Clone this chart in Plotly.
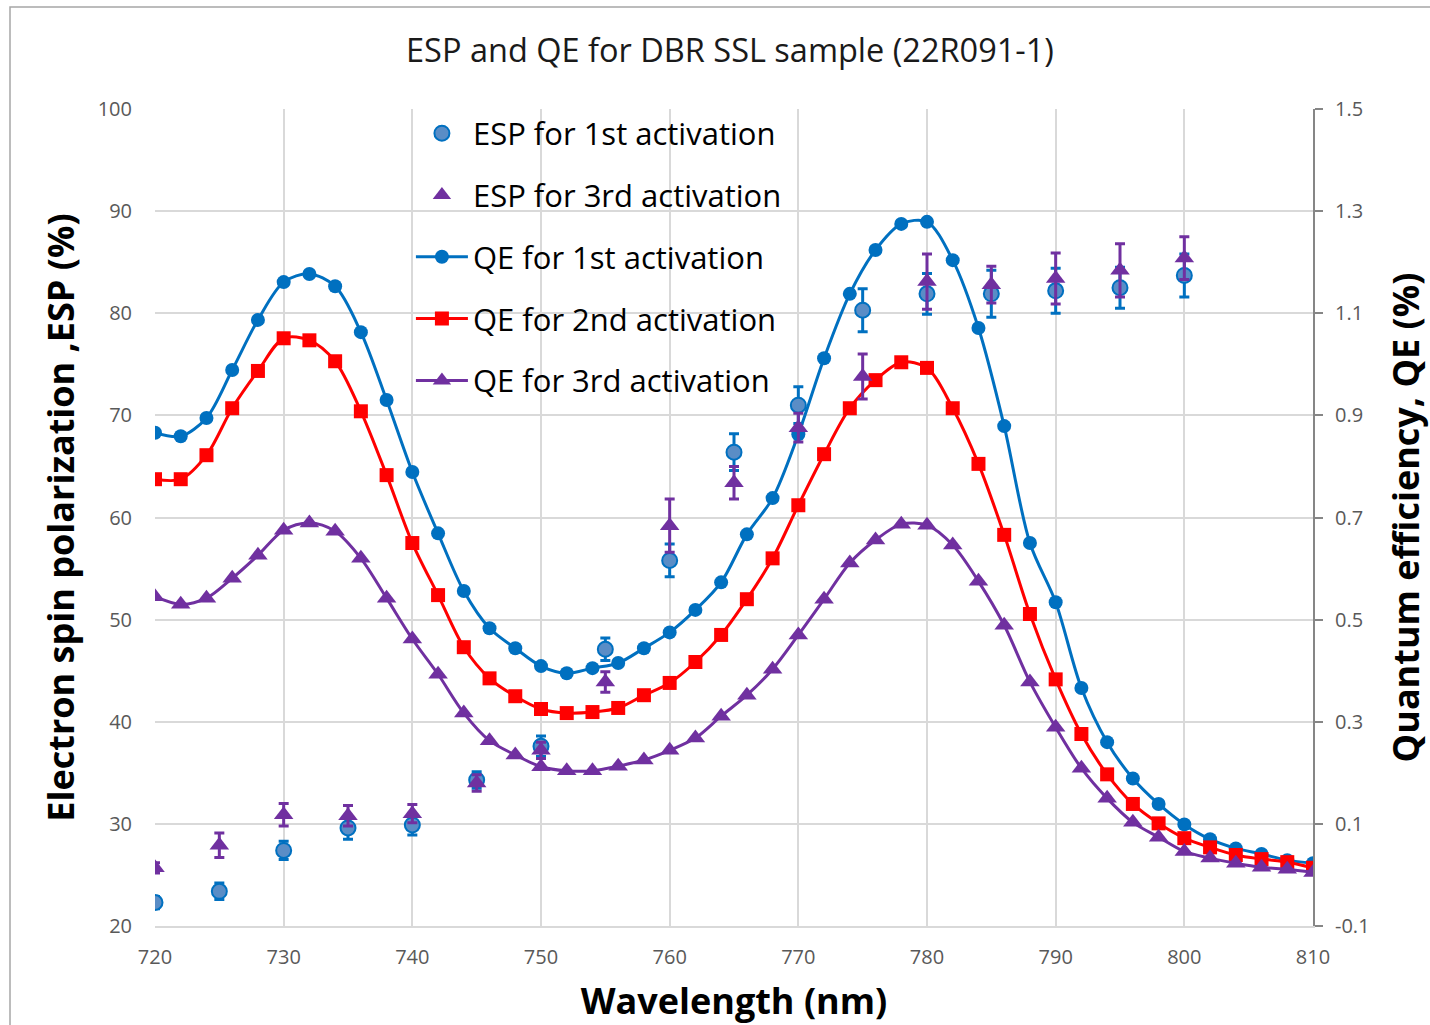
import plotly.graph_objects as go

# ---------------- data ----------------
wl_qe = [720, 722, 724, 726, 728, 730, 732, 734, 736, 738, 740, 742, 744, 746, 748,
         750, 752, 754, 756, 758, 760, 762, 764, 766, 768, 770, 772, 774, 776, 778,
         780, 782, 784, 786, 788, 790, 792, 794, 796, 798, 800, 802, 804, 806, 808, 810]

qe_1st = [0.866, 0.859, 0.895, 0.989, 1.087, 1.161, 1.177, 1.153, 1.063, 0.930, 0.789, 0.669, 0.556, 0.483, 0.444,
          0.409, 0.395, 0.405, 0.415, 0.444, 0.475, 0.519, 0.573, 0.667, 0.738, 0.863,
          1.012, 1.138, 1.224, 1.275, 1.279, 1.204, 1.071, 0.879,
          0.650, 0.534, 0.366, 0.260, 0.189, 0.139, 0.099, 0.070, 0.052, 0.041, 0.029, 0.023]

qe_2nd = [0.775, 0.775, 0.822, 0.914, 0.987, 1.051, 1.047, 1.006, 0.908, 0.783, 0.650, 0.548, 0.446, 0.385, 0.350,
          0.325, 0.317, 0.319, 0.327, 0.352, 0.376, 0.417, 0.470, 0.540, 0.620, 0.724, 0.824,
          0.914, 0.969, 1.004, 0.993, 0.914, 0.805,
          0.666, 0.511, 0.383, 0.276, 0.197, 0.139, 0.101, 0.072, 0.054, 0.039, 0.031, 0.025, 0.014]

qe_3rd = [0.545, 0.530, 0.542, 0.581, 0.626, 0.675, 0.689, 0.673, 0.620, 0.542, 0.462, 0.393, 0.317,
          0.263, 0.235, 0.212, 0.204, 0.204, 0.213, 0.225, 0.244, 0.268,
          0.311, 0.352, 0.403, 0.470, 0.540, 0.611, 0.656, 0.687,
          0.685, 0.646, 0.575, 0.489, 0.378, 0.289, 0.209, 0.150, 0.103, 0.074, 0.046, 0.033, 0.023, 0.015, 0.011, 0.005]

wl_esp = [720, 725, 730, 735, 740, 745, 750, 755, 760, 765, 770, 775, 780, 785, 790, 795, 800]
esp_1st = [22.3, 23.4, 27.4, 29.6, 29.9, 34.3, 37.6, 47.1, 55.8, 66.4, 71.0, 80.3, 81.9, 81.9, 82.2, 82.5, 83.7]
esp_1st_err = [0.6, 0.8, 0.9, 1.1, 1.0, 0.8, 1.0, 1.1, 1.6, 1.8, 1.8, 2.1, 2.0, 2.3, 2.2, 2.0, 2.1]
esp_3rd = [25.7, 27.9, 30.9, 30.8, 31.0, 34.0, 37.2, 43.9, 59.2, 63.4, 68.8, 73.8, 83.1, 82.8, 83.4, 84.2, 85.4]
esp_3rd_err = [0.5, 1.2, 1.1, 1.0, 0.9, 0.8, 0.8, 1.0, 2.6, 1.6, 1.4, 2.2, 2.7, 1.8, 2.5, 2.6, 2.1]

x_ticks = [720, 730, 740, 750, 760, 770, 780, 790, 800, 810]
qe_ticks = [-0.1, 0.1, 0.3, 0.5, 0.7, 0.9, 1.1, 1.3, 1.5]
qe_tick_labels = ["-0.1", "0.1", "0.3", "0.5", "0.7", "0.9", "1.1", "1.3", "1.5"]

# ---------------- styles ----------------
BLUE = "#0070C0"
RED = "#FF0000"
PURPLE = "#7030A0"
FONT = "Open Sans"

fig = go.Figure()

# QE curves (primary y axis, drawn on the right side)
fig.add_trace(go.Scatter(
    x=wl_qe, y=qe_1st, name="QE for 1st activation", mode="lines+markers",
    line=dict(color=BLUE, width=3, shape="spline", smoothing=0.9),
    marker=dict(symbol="circle", size=14, color=BLUE),
    yaxis="y", legendgroup="g3", legendrank=3))
fig.add_trace(go.Scatter(
    x=wl_qe, y=qe_2nd, name="QE for 2nd activation", mode="lines+markers",
    line=dict(color=RED, width=3, shape="spline", smoothing=0.9),
    marker=dict(symbol="square", size=14, color=RED),
    yaxis="y", legendgroup="g4", legendrank=4))
fig.add_trace(go.Scatter(
    x=wl_qe, y=qe_3rd, name="QE for 3rd activation", mode="lines+markers",
    line=dict(color=PURPLE, width=3, shape="spline", smoothing=0.9),
    marker=dict(symbol="triangle-up", size=17, color=PURPLE),
    yaxis="y", legendgroup="g5", legendrank=5))

# ESP points (secondary y axis, drawn on the left side, on top)
fig.add_trace(go.Scatter(
    x=wl_esp, y=esp_1st, name="ESP for 1st activation", mode="markers",
    marker=dict(symbol="circle", size=15, color="#5A8DC6", line=dict(color=BLUE, width=2)),
    error_y=dict(type="data", array=esp_1st_err, visible=True, color=BLUE, thickness=3, width=5),
    yaxis="y2", legendgroup="g1", legendrank=1))
fig.add_trace(go.Scatter(
    x=wl_esp, y=esp_3rd, name="ESP for 3rd activation", mode="markers",
    marker=dict(symbol="triangle-up", size=17, color=PURPLE),
    error_y=dict(type="data", array=esp_3rd_err, visible=True, color=PURPLE, thickness=3, width=5),
    yaxis="y2", legendgroup="g2", legendrank=2))

GRID = "#D9D9D9"
TICKFONT = dict(family=FONT, size=20, color="#595959")
TITLEFONT = dict(family=FONT, size=36, color="#000000")

fig.update_layout(
    width=1430, height=1025,
    margin=dict(l=155, r=117, t=109, b=99, autoexpand=False),
    paper_bgcolor="white", plot_bgcolor="white",
    font=dict(family=FONT),
    title=dict(text="ESP and QE for DBR SSL sample (22R091-1)",
               font=dict(family=FONT, size=32.5, color="#1a1a1a"),
               x=0.5105, xanchor="center", xref="container",
               y=0.951, yanchor="middle", yref="container"),
    xaxis=dict(range=[720, 810], tickvals=x_ticks, ticktext=[str(v) for v in x_ticks],
               showgrid=True, gridcolor=GRID, gridwidth=1.5,
               showline=True, linecolor=GRID, linewidth=1.5, automargin=False,
               zeroline=False, ticks="", tickfont=TICKFONT, ticklabelstandoff=12,
               title=dict(text="<b>Wavelength (nm)</b>", font=TITLEFONT, standoff=20)),
    yaxis=dict(side="right", range=[-0.1, 1.5], tickvals=qe_ticks, ticktext=qe_tick_labels,
               showgrid=True, gridcolor=GRID, gridwidth=1.5, zeroline=False,
               showline=True, linecolor="#868686", linewidth=2, automargin=False,
               ticks="outside", ticklen=8, tickwidth=2, tickcolor="#868686",
               tickfont=TICKFONT, ticklabelstandoff=8,
               title=dict(text="<b>Quantum efficiency, QE (%)</b>", font=TITLEFONT, standoff=26)),
    yaxis2=dict(side="left", overlaying="y", anchor="x", range=[20, 100], tick0=20, dtick=10,
                showgrid=False, zeroline=False, showline=False, ticks="", automargin=False,
                tickfont=TICKFONT, ticklabelstandoff=22,
                title=dict(text="<b>Electron spin polarization ,ESP (%)</b>", font=TITLEFONT, standoff=12)),
    legend=dict(x=0.221, y=1.003, xanchor="left", yanchor="top",
                font=dict(family=FONT, size=31, color="#000000"),
                bgcolor="rgba(0,0,0,0)", itemwidth=52, tracegroupgap=18.5,
                traceorder="grouped"),
    showlegend=True,
    shapes=[dict(type="rect", xref="paper", yref="paper",
                 x0=(10 - 155) / 1158, x1=(1440 - 155) / 1158,
                 y0=(926 - 1040) / 817, y1=(926 - 7) / 817,
                 line=dict(color="#A6A6A6", width=1.5), layer="below")],
)

fig.write_html("out.html")
